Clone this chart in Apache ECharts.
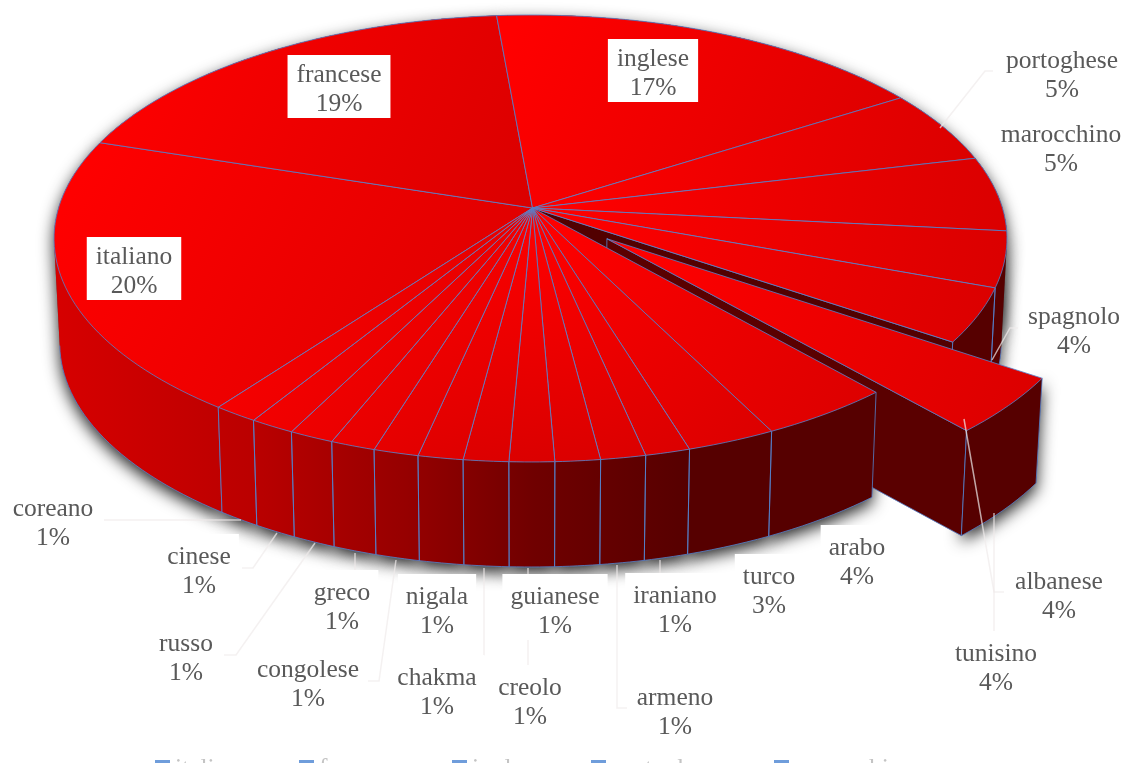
<!DOCTYPE html>
<html><head><meta charset="utf-8">
<style>html,body{margin:0;padding:0;background:#fff;overflow:hidden}#c{width:1123px;height:763px}</style>
<script src="https://cdn.jsdelivr.net/npm/echarts@6/dist/echarts.min.js"></script>
</head><body><div id="c"></div>
<script>
// ---- data (share of each language, %) ----
const categories = ['italiano','francese','inglese','portoghese','marocchino','spagnolo','albanese','tunisino','arabo','turco','iraniano','armeno','guianese','creolo','chakma','nigala','congolese','greco','russo','cinese','coreano'];
const shares = [20.0,18.67,17.23,5.3,5.4,4.0,3.9,4.05,4.0,2.67,1.34,1.34,1.34,1.34,1.34,1.34,1.34,1.34,1.34,1.34,1.34];
const legendNames = ['italiano','francese','inglese','portoghese','marocchino'];
const insideLabels = ['italiano','francese','inglese'];
const plainLabels = ['portoghese','marocchino','spagnolo'];
const explodedName = 'tunisino';

// ---- layout ----
const START_DEG = -143.95, EXPLODE = 0.207, APEX_DX = 2;
const CX = 530.5, CY = 208, A = 219.3, K = 0.1365, B = 472, DEPTH = 105, SHRINK = 0.988;
const labelCenters = {francese:[339,90],inglese:[653,74],italiano:[134,272],portoghese:[1062,76],marocchino:[1061,150],spagnolo:[1074,332],albanese:[1059,597],tunisino:[996,669],arabo:[857,563],turco:[769,592],iraniano:[675,611],armeno:[675,713],guianese:[555,612],creolo:[530,703],chakma:[437,693],nigala:[437,612],congolese:[308,685],greco:[342,608],russo:[186,659],cinese:[199,572],coreano:[53,524]};
const leaders = {portoghese:[[993,71],[985,71],[940,128]],spagnolo:[[1018,328],[1010,328],[992,360]],albanese:[[964,419],[994,592],[1004,592]],tunisino:[[994,513],[994,632]],coreano:[[104,520],[241,520]],cinese:[[242,568],[253,568],[277,533]],russo:[[224,655],[236,655],[315,543]],greco:[[355,553],[355,572]],congolese:[[368,681],[379,681],[396,560]],chakma:[[484,568],[484,656]],creolo:[[528,568],[528,666]],armeno:[[617,565],[617,708],[627,708]],iraniano:[[660,560],[660,573]]};
const legendX = [155,299,452,591,774];
const FONT = '"Liberation Serif", serif';
const LABEL_FONT = '25.5px '+FONT;
const EDGE = 'rgba(85,130,205,.8)';

const total = shares.reduce((a,b)=>a+b,0);
const rad = d => d*Math.PI/180;
const measure = document.createElement('canvas').getContext('2d');
measure.font = LABEL_FONT;
function proj(u,v){const w=1-K*v;return [CX+B*u/w, CY+A*v/w];}
function bot(p){return [CX+(p[0]-CX)*SHRINK, p[1]+DEPTH];}
function disk(deg,r,off){const t=rad(deg);return proj(r*Math.sin(t)+off[0], -r*Math.cos(t)+off[1]);}
function hull(pts){
  const p=pts.slice().sort((a,b)=>a[0]-b[0]||a[1]-b[1]);
  const cr=(o,a,b)=>(a[0]-o[0])*(b[1]-o[1])-(a[1]-o[1])*(b[0]-o[0]);
  const lo=[],up=[];
  for(const q of p){while(lo.length>1&&cr(lo[lo.length-2],lo[lo.length-1],q)<=0)lo.pop();lo.push(q);}
  for(const q of p.slice().reverse()){while(up.length>1&&cr(up[up.length-2],up[up.length-1],q)<=0)up.pop();up.push(q);}
  return lo.slice(0,-1).concat(up.slice(0,-1));
}
let acc=START_DEG;
const spans=shares.map(s=>{const a=acc;acc+=s/total*360;return [a,acc];});
const wallFill=new echarts.graphic.LinearGradient(60,0,690,0,[{offset:0,color:'#d60000'},{offset:.3,color:'#bb0000'},{offset:.55,color:'#960000'},{offset:.75,color:'#700000'},{offset:1,color:'#560000'}],true);

function render(params,api){
  const i=params.dataIndex, name=categories[i], [a0,a1]=spans[i], mid=(a0+a1)/2;
  const ex=name===explodedName;
  const off=ex?[EXPLODE*Math.sin(rad(mid)),-EXPLODE*Math.cos(rad(mid))]:[0,0];
  const arc=[],seen=[];const n=Math.max(6,Math.ceil((a1-a0)/1.5));
  for(let k=0;k<=n;k++){const d=a0+(a1-a0)*k/n;arc.push(disk(d,1,off));seen.push(-Math.cos(rad(d))>=K);}
  const ap=proj(off[0],off[1]), apex=[ap[0]+APEX_DX,ap[1]];
  const kids=[];
  const v=-Math.cos(rad(mid));
  const wz=ex?30:(name==='spagnolo'||name==='albanese'?10:(v<0?5:50+v));
  // cast shadow under the pie, then the outer wall
  const lower=arc.map(bot);
  const wall=arc.concat(lower.slice().reverse());
  const body=hull(wall);
  kids.push({type:'polygon',z2:-10,shape:{points:body},style:{fill:'#555',shadowBlur:16,shadowColor:'rgba(0,0,0,.85)',shadowOffsetX:0,shadowOffsetY:6}});
  kids.push({type:'polygon',z2:wz,shape:{points:body},style:{fill:wallFill}});
  // only the wall edges that face the viewer are outlined
  const rim=lower.filter((p,k)=>seen[k]);
  if(rim.length>1)kids.push({type:'polyline',z2:wz+.2,shape:{points:rim},style:{fill:null,stroke:EDGE,lineWidth:1}});
  if(seen[0])kids.push({type:'polyline',z2:wz+.2,shape:{points:[arc[0],lower[0]]},style:{fill:null,stroke:EDGE,lineWidth:1}});
  if(seen[n])kids.push({type:'polyline',z2:wz+.2,shape:{points:[arc[n],lower[n]]},style:{fill:null,stroke:EDGE,lineWidth:1}});
  if(ex){kids.push({type:'polygon',z2:wz-1,shape:{points:[apex,arc[n],bot(arc[n]),bot(apex)]},style:{fill:'#5a0000',stroke:EDGE,lineWidth:1}});}
  if(name==='albanese'){kids.push({type:'polygon',z2:wz+1,shape:{points:[apex,arc[n],bot(arc[n]),bot(apex)]},style:{fill:'#520000',stroke:EDGE,lineWidth:1}});}
  // top face
  const fill=new echarts.graphic.LinearGradient(0,0,1,1,[{offset:0.05,color:'#ff0000'},{offset:1,color:'#da0000'}]);
  kids.push({type:'polygon',z2:ex?110:100,shape:{points:[apex].concat(arc)},style:{fill:fill,stroke:EDGE,lineWidth:1,lineJoin:'round'}});
  // leader
  if(leaders[name])kids.push({type:'polyline',z2:115,shape:{points:leaders[name]},style:{fill:null,stroke:'rgba(240,235,235,.7)',lineWidth:1.5}});
  // label: white plate, then text
  const c=labelCenters[name];
  if(!plainLabels.includes(name)){
    const inside=insideLabels.includes(name);
    const half=measure.measureText(name).width/2+(inside?9:8);
    const up=inside?35:38;
    kids.push({type:'rect',z2:118,shape:{x:c[0]-half,y:c[1]-up,width:half*2,height:up+28},style:{fill:'#fff'}});
  }
  kids.push({type:'text',z2:120,x:c[0],y:c[1],style:{text:name+'\n'+Math.round(api.value(0))+'%',font:LABEL_FONT,fill:'#595959',align:'center',verticalAlign:'middle',lineHeight:29}});
  // legend entry (clipped by the window bottom, as in the picture)
  const li=legendNames.indexOf(name);
  if(li>=0){
    kids.push({type:'rect',z2:120,shape:{x:legendX[li],y:760,width:15,height:15},style:{fill:'#6f9ddb'}});
    kids.push({type:'text',z2:120,x:legendX[li]+20,y:756,style:{text:name,font:LABEL_FONT,fill:'#c4c4c4',verticalAlign:'top'}});
  }
  return {type:'group',children:kids};
}
const chart=echarts.init(document.getElementById('c'),null,{renderer:'canvas'});
chart.setOption({animation:false,backgroundColor:'#fff',
  series:[{type:'custom',coordinateSystem:'none',renderItem:render,clip:false,
    data:categories.map((n,i)=>({name:n,value:[shares[i]]}))}]});
</script></body></html>
